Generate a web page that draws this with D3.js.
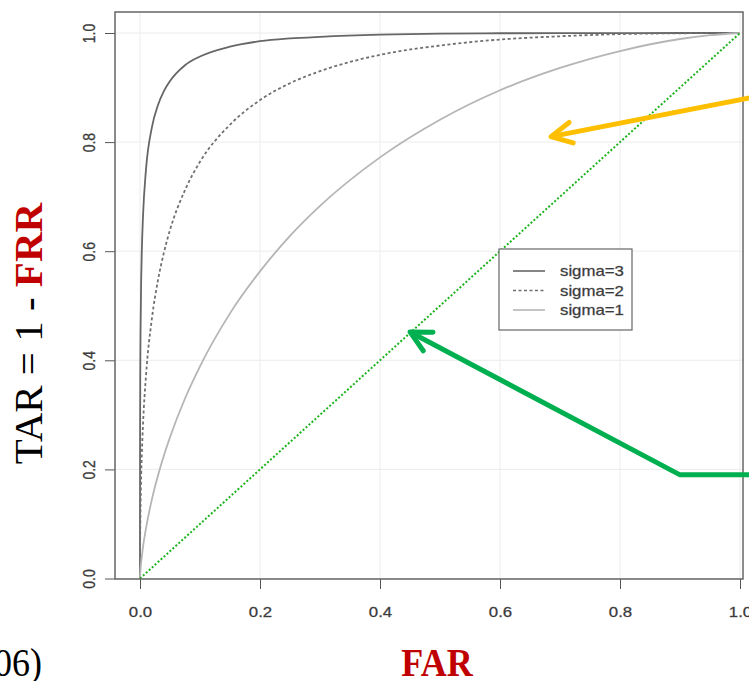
<!DOCTYPE html>
<html>
<head>
<meta charset="utf-8">
<script src="https://cdn.jsdelivr.net/npm/d3@7"></script>
<style>
  body { margin: 0; background: #fff; }
  svg { display: block; }
</style>
</head>
<body>
<script>
// ROC curves for three separations
var far = [0, 0.00001, 0.0001, 0.0005, 0.001, 0.002, 0.003, 0.005, 0.01, 0.02, 0.03, 0.04, 0.05, 0.075, 0.1, 0.15, 0.2, 0.25, 0.3, 0.4, 0.5, 0.6, 0.7, 0.8, 0.9, 0.95, 1];
var tarSigma3 = [0, 0.100, 0.236, 0.386, 0.464, 0.549, 0.600, 0.664, 0.750, 0.828, 0.868, 0.894, 0.912, 0.941, 0.957, 0.975, 0.985, 0.990, 0.993, 0.997, 0.999, 0.9995, 0.9998, 0.9999, 1, 1, 1];
var tarSigma2 = [0, 0.012, 0.043, 0.098, 0.138, 0.190, 0.227, 0.282, 0.372, 0.478, 0.547, 0.598, 0.639, 0.712, 0.764, 0.832, 0.877, 0.908, 0.930, 0.960, 0.977, 0.988, 0.994, 0.998, 0.9995, 0.9998, 1];
var tarSigma1 = [0, 0.0005, 0.003, 0.011, 0.018, 0.030, 0.040, 0.058, 0.092, 0.146, 0.189, 0.226, 0.259, 0.330, 0.389, 0.486, 0.563, 0.628, 0.683, 0.772, 0.841, 0.895, 0.936, 0.967, 0.989, 0.996, 1];
var seriesNames = ["sigma=3", "sigma=2", "sigma=1"];
var chanceLine = [[0, 0], [1, 1]];
var xTicks = [0, 0.2, 0.4, 0.6, 0.8, 1.0];
var yTicks = [0, 0.2, 0.4, 0.6, 0.8, 1.0];
// annotation arrows, in data units: tip first
var orangeArrow = [[0.685, 0.81], [1.02, 0.882]];
var greenArrow = [[0.45, 0.452], [0.9, 0.19], [1.02, 0.19]];

var W = 749, H = 681;
var box = { left: 115, top: 12, right: 743, bottom: 579 };

var svg = d3.select("body").append("svg")
    .attr("width", W)
    .attr("height", H);

var x = d3.scaleLinear().domain([0, 1]).range([140, 740]);
var y = d3.scaleLinear().domain([0, 1]).range([578.5, 33]);

// grid
svg.append("g").selectAll("line.vg")
    .data(xTicks).enter().append("line")
    .attr("x1", function (d) { return x(d); })
    .attr("x2", function (d) { return x(d); })
    .attr("y1", box.top).attr("y2", box.bottom)
    .attr("stroke", "#ececec").attr("stroke-width", 1);
svg.append("g").selectAll("line.hg")
    .data(yTicks).enter().append("line")
    .attr("y1", function (d) { return y(d); })
    .attr("y2", function (d) { return y(d); })
    .attr("x1", box.left).attr("x2", box.right)
    .attr("stroke", "#ececec").attr("stroke-width", 1);

// axes
var fmt = d3.format(".1f");
var xAxis = svg.append("g")
    .attr("transform", "translate(0," + box.bottom + ")")
    .call(d3.axisBottom(x).tickValues(xTicks).tickFormat(fmt).tickSize(10).tickSizeOuter(0));
xAxis.select(".domain").remove();
xAxis.selectAll(".tick line").attr("stroke", "#555");
xAxis.selectAll(".tick text")
    .attr("y", 0).attr("dy", 0)
    .attr("transform", "translate(0,38) scale(1.2,1)")
    .attr("font-family", "Liberation Sans, Arial, sans-serif")
    .attr("font-size", "14px")
    .attr("fill", "#333")
    .attr("stroke", "#555").attr("stroke-width", 0.3);

var yAxis = svg.append("g")
    .attr("transform", "translate(" + box.left + ",0)")
    .call(d3.axisLeft(y).tickValues(yTicks).tickFormat(fmt).tickSize(10).tickSizeOuter(0));
yAxis.select(".domain").remove();
yAxis.selectAll(".tick line").attr("stroke", "#555");
yAxis.selectAll(".tick text")
    .attr("x", 0).attr("dy", 0)
    .attr("text-anchor", "middle")
    .attr("transform", "translate(-20,0) scale(1.2,1) rotate(-90)")
    .attr("font-family", "Liberation Sans, Arial, sans-serif")
    .attr("font-size", "14px")
    .attr("fill", "#333")
    .attr("stroke", "#555").attr("stroke-width", 0.3);

// curves
var series = [
    { name: seriesNames[0], values: tarSigma3, color: "#666", dash: null },
    { name: seriesNames[1], values: tarSigma2, color: "#707070", dash: "3,2.5" },
    { name: seriesNames[2], values: tarSigma1, color: "#b5b5b5", dash: null }
];
var line = d3.line()
    .x(function (d) { return x(d[0]); })
    .y(function (d) { return y(d[1]); })
    .curve(d3.curveMonotoneX);

svg.append("g").selectAll("path")
    .data(series).enter().append("path")
    .attr("d", function (s) { return line(far.map(function (f, i) { return [f, s.values[i]]; })); })
    .attr("fill", "none")
    .attr("stroke", function (s) { return s.color; })
    .attr("stroke-width", 1.8)
    .attr("stroke-dasharray", function (s) { return s.dash; });

svg.append("path")
    .attr("d", d3.line().x(function (d) { return x(d[0]); }).y(function (d) { return y(d[1]); })(chanceLine))
    .attr("fill", "none")
    .attr("stroke", "#1db31d")
    .attr("stroke-width", 2)
    .attr("stroke-dasharray", "2,2");

// plot frame
svg.append("rect")
    .attr("x", box.left).attr("y", box.top)
    .attr("width", box.right - box.left).attr("height", box.bottom - box.top)
    .attr("fill", "none").attr("stroke", "#666").attr("stroke-width", 1.5);

// legend
var lg = svg.append("g").attr("transform", "translate(499,249)");
lg.append("rect")
    .attr("width", 133).attr("height", 81)
    .attr("fill", "#fff").attr("stroke", "#666").attr("stroke-width", 1.2);
var items = lg.selectAll("g.item").data(series).enter().append("g")
    .attr("transform", function (d, i) { return "translate(0," + (22 + i * 19.5) + ")"; });
items.append("line")
    .attr("x1", 14).attr("x2", 46)
    .attr("stroke", function (d) { return d.color; })
    .attr("stroke-width", 1.6)
    .attr("stroke-dasharray", function (d) { return d.dash; });
items.append("text")
    .attr("transform", "translate(61,5) scale(1.2,1)")
    .attr("font-family", "Liberation Sans, Arial, sans-serif")
    .attr("font-size", "14px")
    .attr("fill", "#333")
    .attr("stroke", "#555").attr("stroke-width", 0.3)
    .text(function (d) { return d.name; });

// arrows
function drawArrow(pts, color) {
    var px = pts.map(function (p) { return [x(p[0]), y(p[1])]; });
    svg.append("path")
        .attr("d", d3.line()(px))
        .attr("fill", "none").attr("stroke", color)
        .attr("stroke-width", 5)
        .attr("stroke-linejoin", "round");
    var tip = px[0], nxt = px[1];
    var ang = Math.atan2(nxt[1] - tip[1], nxt[0] - tip[0]);
    var len = 23, half = 27 * Math.PI / 180;
    var w1 = [tip[0] + len * Math.cos(ang - half), tip[1] + len * Math.sin(ang - half)];
    var w2 = [tip[0] + len * Math.cos(ang + half), tip[1] + len * Math.sin(ang + half)];
    svg.append("path")
        .attr("d", d3.line()([w1, tip, w2]))
        .attr("fill", "none").attr("stroke", color)
        .attr("stroke-width", 5)
        .attr("stroke-linecap", "round")
        .attr("stroke-linejoin", "round");
}
drawArrow(orangeArrow, "#fdbf00");
drawArrow(greenArrow, "#00b050");

// slide text
var ylab = svg.append("text")
    .attr("transform", "translate(42,333.5) rotate(-90)")
    .attr("text-anchor", "middle")
    .attr("font-family", "Liberation Serif, Times New Roman, serif")
    .attr("font-size", "41px");
ylab.append("tspan").attr("fill", "#000").text("TAR = 1 - ");
ylab.append("tspan").attr("fill", "#c00000").attr("font-weight", "bold").text("FRR");

svg.append("text")
    .attr("transform", "translate(437,676) scale(0.9,1)")
    .attr("text-anchor", "middle")
    .attr("font-family", "Liberation Serif, Times New Roman, serif")
    .attr("font-size", "40px")
    .attr("font-weight", "bold")
    .attr("fill", "#c00000")
    .text("FAR");

svg.append("text")
    .attr("transform", "translate(42,676) scale(0.9,1)")
    .attr("text-anchor", "end")
    .attr("font-family", "Liberation Serif, Times New Roman, serif")
    .attr("font-size", "40px")
    .attr("fill", "#000")
    .text("(2006)");
</script>
</body>
</html>
